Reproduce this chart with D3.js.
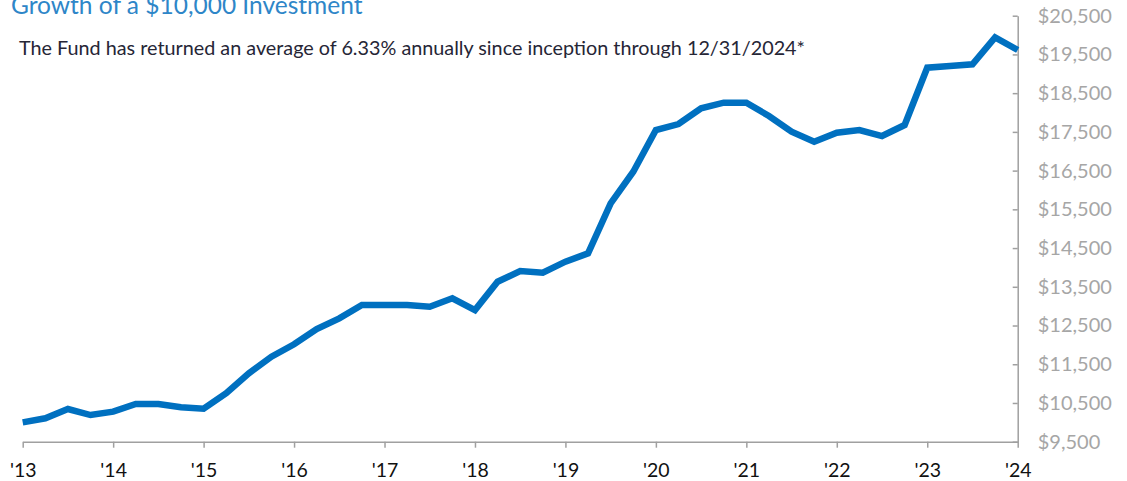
<!DOCTYPE html>
<html>
<head>
<meta charset="utf-8">
<script src="https://cdn.jsdelivr.net/npm/d3@7.9.0/dist/d3.min.js"></script>
<style>
  body { margin: 0; background: #fff; }
  svg { display: block; font-family: Lato, "Open Sans", sans-serif; }
</style>
</head>
<body>
<svg id="chart" width="1127" height="481"></svg>
<script>
// quarterly growth of $10,000, end of 2012 through end of 2024
const values = [
  10000, 10104, 10344, 10189, 10275, 10473, 10473, 10388, 10352,
  10750, 11266, 11695, 12015, 12410, 12686, 13030, 13030,
  13030, 12986, 13203, 12900, 13631, 13907, 13864, 14148,
  14364, 15655, 16471, 17548, 17703, 18108, 18253, 18253,
  17910, 17504, 17246, 17478, 17548, 17393, 17677, 19157,
  19200, 19244, 19941, 19614
];
const yearLabels = ["'13", "'14", "'15", "'16", "'17", "'18", "'19", "'20", "'21", "'22", "'23", "'24"];
const yTicks = [9500, 10500, 11500, 12500, 13500, 14500, 15500, 16500, 17500, 18500, 19500, 20500];

const titleText = "Growth of a $10,000 Investment";
const subtitleText = "The Fund has returned an average of 6.33% annually since inception through 12/31/2024*";

let svg = d3.select("#chart");
let plotLeft = 22.7, plotRight = 1017.7, plotTop = 15.7, plotBottom = 441.7;

let xScale = d3.scaleLinear().domain([0, values.length - 1]).range([plotLeft, plotRight]);
let yScale = d3.scaleLinear().domain([9500, 20500]).range([plotBottom, plotTop]);
// year ticks sit on every 4th quarter
let xYear = d3.scaleLinear().domain([0, yearLabels.length - 1]).range([plotLeft, plotRight]);

// x axis
let xAxis = svg.append("g")
  .attr("transform", `translate(0,${plotBottom})`)
  .call(d3.axisBottom(xYear)
    .tickValues(d3.range(yearLabels.length))
    .tickFormat(i => yearLabels[i])
    .tickSizeInner(6)
    .tickSizeOuter(0)
    .tickPadding(15));

// y axis on the right, ticks pointing in
let yAxis = svg.append("g")
  .attr("transform", `translate(${plotRight},0)`)
  .call(d3.axisRight(yScale)
    .tickValues(yTicks)
    .tickFormat(d3.format("$,"))
    .tickSizeInner(-5)
    .tickSizeOuter(0)
    .tickPadding(20));

[xAxis, yAxis].forEach(ax => {
  ax.select(".domain").attr("stroke", "#a0a0a0").attr("stroke-width", 1.5);
  ax.selectAll(".tick line").attr("stroke", "#a0a0a0").attr("stroke-width", 1.5);
});
xAxis.selectAll("text").attr("font-size", 19.5).attr("fill", "#111").attr("font-family", "Lato");
yAxis.selectAll("text").attr("font-size", 20).attr("fill", "#a6a6a6").attr("font-family", "Lato");

// the growth line
let line = d3.line().x((d, i) => xScale(i)).y(d => yScale(d));
svg.append("path")
  .datum(values)
  .attr("fill", "none")
  .attr("stroke", "#0070c0")
  .attr("stroke-width", 6.5)
  .attr("stroke-linejoin", "miter")
  .attr("d", line);

// titles
svg.append("text")
  .attr("x", 11)
  .attr("y", 14)
  .attr("font-size", 24.5)
  .attr("fill", "#2e86c8")
  .text(titleText);

svg.append("text")
  .attr("x", 19)
  .attr("y", 55)
  .attr("font-size", 19.8)
  .attr("fill", "#262636")
  .text(subtitleText);
</script>
</body>
</html>
